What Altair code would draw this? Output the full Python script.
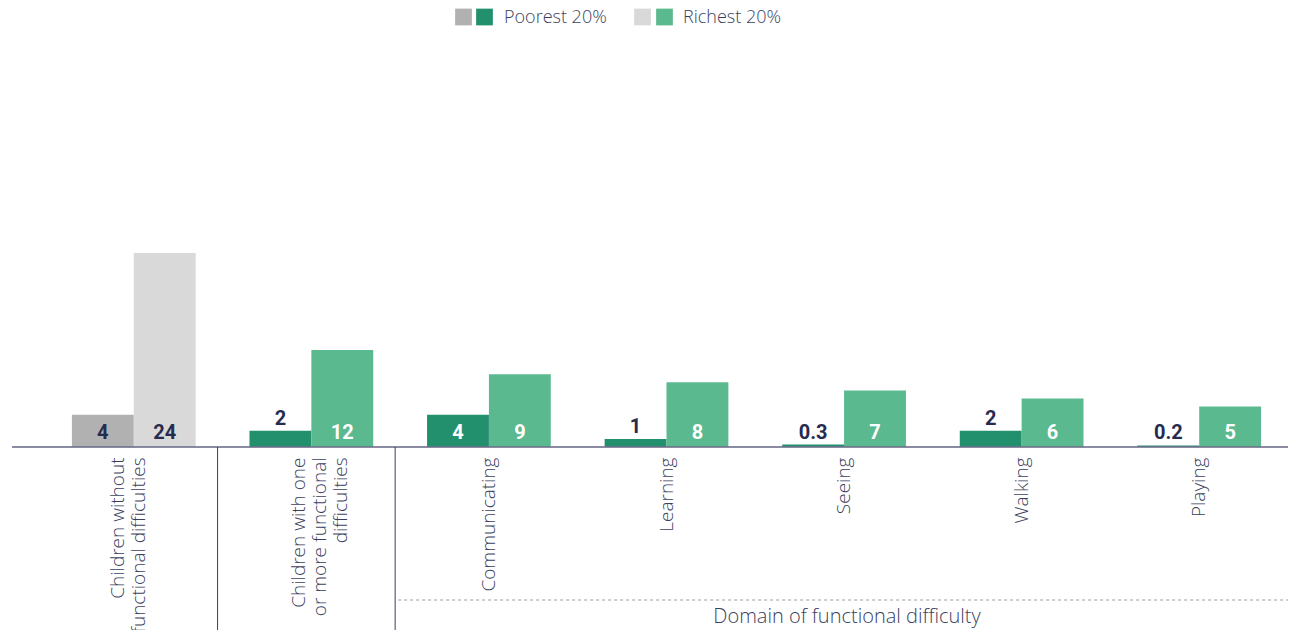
import altair as alt
import pandas as pd

# ---------------- data ----------------
categories = [
    "Children without|functional difficulties",
    "Children with one|or more functional|difficulties",
    "Communicating",
    "Learning",
    "Seeing",
    "Walking",
    "Playing",
]
series = ["Poorest 20%", "Richest 20%"]
poorest = [4, 2, 4, 1, 0.3, 2, 0.2]
richest = [24, 12, 9, 8, 7, 6, 5]
domain_title = "Domain of functional difficulty"

# ---------------- styles ----------------
NAVY = "#262b4f"
LABEL = "#3b3f5e"
GRAY_P, GRAY_R = "#b1b1b1", "#d9d9d9"
GREEN_P, GREEN_R = "#228f6d", "#5bb98f"
FONT = "Open Sans"
NUMFONT = "Roboto"

W, H = 1243, 404
STEP = W / len(categories)

rows = []
for i, cat in enumerate(categories):
    for s, vals in zip(series, [poorest, richest]):
        gray = i == 0
        if s == series[0]:
            col = GRAY_P if gray else GREEN_P
        else:
            col = GRAY_R if gray else GREEN_R
        v = vals[i]
        inside = v >= 3
        tcol = "white" if (inside and not gray) else NAVY
        rows.append(dict(category=cat, series=s, value=v, color=col, tcolor=tcol, inside=inside))
df = pd.DataFrame(rows)

base = alt.Chart(df)
xenc = alt.X(
    "category:N",
    sort=categories,
    scale=alt.Scale(paddingInner=0, paddingOuter=0),
    axis=alt.Axis(
        title=None,
        labelAngle=-90,
        labelAlign="right",
        labelBaseline="middle",
        labelPadding=10,
        labelFontSize=19,
        labelFont=FONT,
        labelFontWeight=300,
        labelColor=LABEL,
        labelLineHeight=21,
        labelLimit=400,
        labelExpr="split(datum.label, '|')",
        labelOffset={
            "condition": [
                {"test": "indexof(datum.value, 'without') >= 0", "value": -16},
                {"test": "indexof(datum.value, 'one|') >= 0", "value": -12},
            ],
            "value": 0,
        },
        ticks=False,
        domain=False,
    ),
)
xoff = alt.XOffset("series:N", sort=series, scale=alt.Scale(paddingInner=0, paddingOuter=0.435))
yscale = alt.Scale(domain=[0, 50])

bars = base.mark_bar().encode(
    x=xenc,
    xOffset=xoff,
    y=alt.Y("value:Q", scale=yscale, axis=None),
    color=alt.Color("color:N", scale=None),
)

lab_in = base.transform_filter("datum.inside").mark_text(
    baseline="alphabetic", dy=-8, fontSize=20, fontWeight="bold", font=NUMFONT
).encode(
    x=alt.X("category:N", sort=categories),
    xOffset=xoff,
    y=alt.datum(0),
    text=alt.Text("value:Q"),
    color=alt.Color("tcolor:N", scale=None),
)

lab_out = base.transform_filter("!datum.inside").mark_text(
    baseline="alphabetic", dy=-6, fontSize=20, fontWeight="bold", font=NUMFONT
).encode(
    x=alt.X("category:N", sort=categories),
    xOffset=xoff,
    y=alt.Y("value:Q"),
    text=alt.Text("value:Q"),
    color=alt.Color("tcolor:N", scale=None),
)

one = pd.DataFrame({"k": [0]})

baseline = alt.Chart(one).mark_rule(color="#6e6e8a", opacity=0.8, strokeWidth=2).encode(
    x=alt.value(-33), x2=alt.value(W), y=alt.value(H)
)

seps = [
    alt.Chart(one).mark_rule(color=LABEL, strokeWidth=1).encode(
        x=alt.value(STEP * k - 5), y=alt.value(H), y2=alt.value(H + 200)
    )
    for k in (1, 2)
]

dash = alt.Chart(one).mark_rule(color="#9a9aaa", strokeWidth=1, strokeDash=[3, 3]).encode(
    x=alt.value(STEP * 2 - 2), x2=alt.value(W), y=alt.value(557)
)

dom_text = alt.Chart(pd.DataFrame({"t": [domain_title]})).mark_text(
    fontSize=20, font=FONT, fontWeight=300, color=LABEL, align="center", baseline="middle"
).encode(x=alt.value(802), y=alt.value(574), text="t:N")

# custom legend
legend_layers = []
leg_pos = [(418.5, 439.5, 459), (597.5, 619.5, 638)]
for (gx, cx, tx), s, gcol, ccol in zip(leg_pos, series, [GRAY_P, GRAY_R], [GREEN_P, GREEN_R]):
    d = pd.DataFrame({"label": [s]})
    legend_layers.append(
        alt.Chart(d).mark_square(size=280, opacity=1, color=gcol).encode(x=alt.value(gx), y=alt.value(-26))
    )
    legend_layers.append(
        alt.Chart(d).mark_square(size=280, opacity=1, color=ccol).encode(x=alt.value(cx), y=alt.value(-26))
    )
    legend_layers.append(
        alt.Chart(d).mark_text(
            align="left", baseline="middle", fontSize=18, font=FONT, fontWeight=300, color=LABEL
        ).encode(x=alt.value(tx), y=alt.value(-25), text="label:N")
    )

chart = alt.layer(bars, baseline, lab_in, lab_out, *seps, dash, dom_text, *legend_layers).properties(
    width=W,
    height=H,
    autosize=alt.AutoSizeParams(type="none"),
    padding={"left": 37, "top": 35, "right": 0, "bottom": 183},
).configure_view(stroke=None)

chart.save("out.html", embed_options={"renderer": "svg", "actions": False})
